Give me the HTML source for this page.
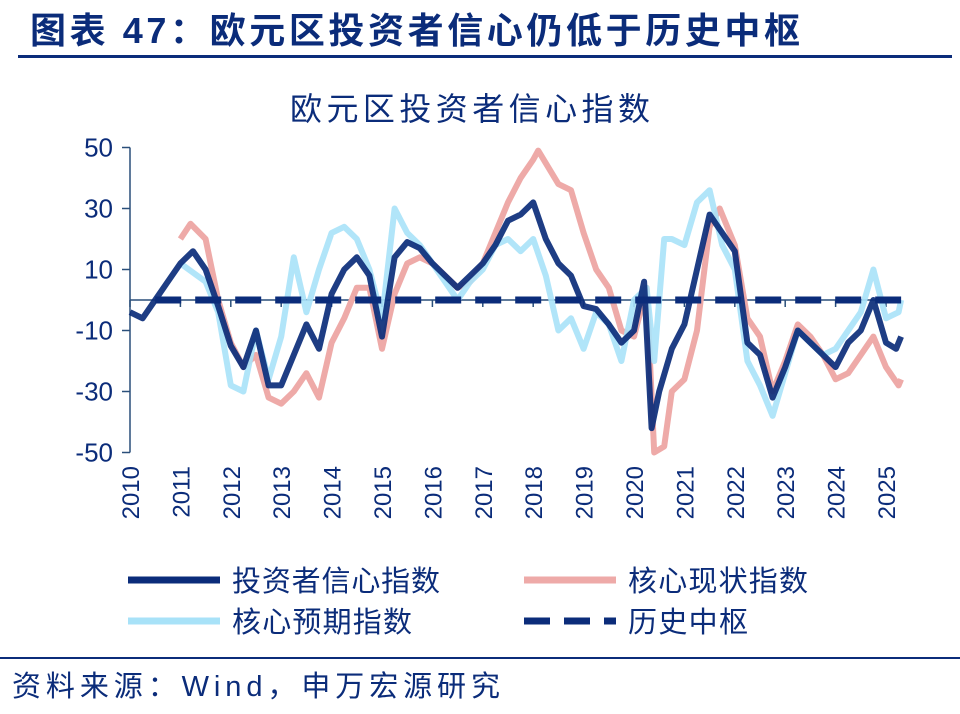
<!DOCTYPE html>
<html><head><meta charset="utf-8"><style>
body{margin:0;background:#fff;width:960px;height:709px;overflow:hidden;font-family:"Liberation Sans","Noto Sans CJK SC",sans-serif}
</style></head><body>
<svg width="960" height="709" xmlns="http://www.w3.org/2000/svg" font-family="'Liberation Sans','Noto Sans CJK SC',sans-serif">
<text x="30" y="43" font-size="36" font-weight="bold" fill="#0b2c7a" textLength="770">图表 47：欧元区投资者信心仍低于历史中枢</text>
<rect x="18" y="55" width="934" height="3" fill="#0b2c7a"/>
<text x="290" y="120" font-size="32" fill="#0b2c7a" textLength="360">欧元区投资者信心指数</text>
<g id="axes"></g>
<g id="plot"></g>
<g font-size="29" fill="#0b2c7a">
<line x1="128" y1="580" x2="220" y2="580" stroke="#0b2c7a" stroke-width="7"/><text x="232" y="591" textLength="208">投资者信心指数</text>
<line x1="524" y1="580" x2="616" y2="580" stroke="#eeaaa8" stroke-width="7"/><text x="628" y="591" textLength="180">核心现状指数</text>
<line x1="128" y1="621" x2="220" y2="621" stroke="#a8e2f8" stroke-width="7"/><text x="232" y="632" textLength="180">核心预期指数</text>
<line x1="524" y1="621" x2="616" y2="621" stroke="#0b2c7a" stroke-width="7" stroke-dasharray="26,14"/><text x="628" y="632" textLength="120">历史中枢</text>
</g>
<rect x="0" y="657" width="960" height="2" fill="#0b2c7a"/>
<text x="12" y="696" font-size="29" fill="#0b2c7a" textLength="488">资料来源：Wind，申万宏源研究</text>
</svg>
<script>
const yearTicks=[2010,2011,2012,2013,2014,2015,2016,2017,2018,2019,2020,2021,2022,2023,2024,2025];
const yTicks=[50,30,10,-10,-30,-50];
const invT=[2010,2010.25,2010.5,2010.75,2011,2011.25,2011.5,2011.75,2012,2012.25,2012.5,2012.75,2013,2013.25,2013.5,2013.75,2014,2014.25,2014.5,2014.75,2015,2015.25,2015.5,2015.75,2016,2016.25,2016.5,2016.75,2017,2017.25,2017.5,2017.75,2018,2018.25,2018.5,2018.75,2019,2019.25,2019.5,2019.75,2020,2020.2,2020.35,2020.5,2020.75,2021,2021.25,2021.5,2021.75,2022,2022.25,2022.5,2022.75,2023,2023.25,2023.5,2023.75,2024,2024.25,2024.5,2024.75,2025,2025.2,2025.3];
const invV=[-4,-6,0,6,12,16,10,-2,-15,-22,-10,-28,-28,-18,-8,-16,2,10,14,8,-12,14,19,17,12,8,4,8,12,18,26,28,32,20,12,8,-2,-3,-8,-14,-10,6,-42,-30,-16,-8,10,28,22,16,-14,-18,-32,-22,-10,-14,-18,-22,-14,-10,0,-14,-16,-12];
const curT=[2011,2011.2,2011.5,2011.75,2012,2012.25,2012.5,2012.75,2013,2013.25,2013.5,2013.75,2014,2014.25,2014.5,2014.75,2015,2015.25,2015.5,2015.75,2016,2016.25,2016.5,2016.75,2017,2017.25,2017.5,2017.75,2018,2018.1,2018.5,2018.75,2019,2019.25,2019.5,2019.75,2020,2020.25,2020.4,2020.6,2020.75,2021,2021.25,2021.5,2021.7,2022,2022.25,2022.5,2022.75,2023,2023.25,2023.5,2023.75,2024,2024.25,2024.5,2024.75,2025,2025.25,2025.3];
const curV=[20,25,20,0,-14,-22,-18,-32,-34,-30,-24,-32,-14,-6,4,4,-16,2,12,14,12,8,4,6,12,22,32,40,46,49,38,36,22,10,4,-10,-12,4,-50,-48,-30,-26,-10,24,30,18,-6,-12,-30,-20,-8,-12,-18,-26,-24,-18,-12,-22,-28,-26];
const expT=[2011,2011.5,2011.75,2012,2012.25,2012.5,2012.75,2013,2013.25,2013.5,2013.75,2014,2014.25,2014.5,2014.75,2015,2015.25,2015.5,2015.75,2016,2016.25,2016.5,2016.75,2017,2017.25,2017.5,2017.75,2018,2018.25,2018.5,2018.75,2019,2019.25,2019.5,2019.75,2020,2020.25,2020.4,2020.6,2020.75,2021,2021.25,2021.5,2021.75,2022,2022.25,2022.5,2022.75,2023,2023.25,2023.5,2023.75,2024,2024.25,2024.5,2024.75,2025,2025.25,2025.3];
const expV=[12,6,-4,-28,-30,-10,-26,-12,14,-4,10,22,24,20,10,-6,30,22,18,12,6,0,6,10,18,20,16,20,8,-10,-6,-16,-4,-8,-20,0,4,-20,20,20,18,32,36,18,10,-20,-28,-38,-24,-10,-14,-18,-16,-10,-4,10,-6,-4,0];
const medianV=[0];
const NS="http://www.w3.org/2000/svg";
const X=t=>130+(t-2010)*50.4, Y=v=>300-v*3.05;
const axes=document.getElementById('axes'),plot=document.getElementById('plot');
function mk(tag,attrs,parent){const e=document.createElementNS(NS,tag);for(const k in attrs)e.setAttribute(k,attrs[k]);parent.appendChild(e);return e;}
let ax=mk('line',{x1:130,y1:Y(50),x2:130,y2:Y(-50),stroke:'#2a4f7a','stroke-width':1.5},axes);


yTicks.forEach(v=>{
 const tk=mk('line',{x1:122,y1:Y(v),x2:130,y2:Y(v),stroke:'#2a4f7a','stroke-width':1.5},axes);
 
 
 const t=mk('text',{x:113,y:Y(v)+9,'font-size':26,'text-anchor':'end',fill:'#0b2c7a'},axes);t.textContent=v;
 
 
});
const zl=mk('line',{x1:130,y1:Y(0),x2:896,y2:Y(0),stroke:'#2a4f7a','stroke-width':1.5},axes);


yearTicks.forEach(yr=>{
 const tk=mk('line',{x1:X(yr),y1:Y(0),x2:X(yr),y2:Y(0)+7,stroke:'#2a4f7a','stroke-width':1.5},axes);
 
 
 const t=mk('text',{x:0,y:0,'font-size':24,'text-anchor':'end',fill:'#0b2c7a',transform:`translate(${X(yr)+9},466) rotate(-90)`},axes);t.textContent=yr;
 
 
});
function line(T,V,color,w,name,op){
 const d=T.map((t,i)=>(i?'L':'M')+X(t).toFixed(1)+','+Y(V[i]).toFixed(1)).join('');
 const p=mk('path',{d,fill:'none',stroke:color,'stroke-width':w,'stroke-linejoin':'round',opacity:op},plot);
 
 
}
line(curT,curV,'#eeaaa8',6,'current-situation-line',1);
line(expT,expV,'#a8e2f8',6,'expectations-line',0.9);
line(invT,invV,'#0b2c7a',6,'investor-confidence-line',0.92);
const md=mk('line',{x1:X(2010.5),y1:Y(medianV[0]),x2:X(2025.3),y2:Y(medianV[0]),stroke:'#0b2c7a','stroke-width':7,'stroke-dasharray':'26,14'},plot);


</script>
</body></html>
